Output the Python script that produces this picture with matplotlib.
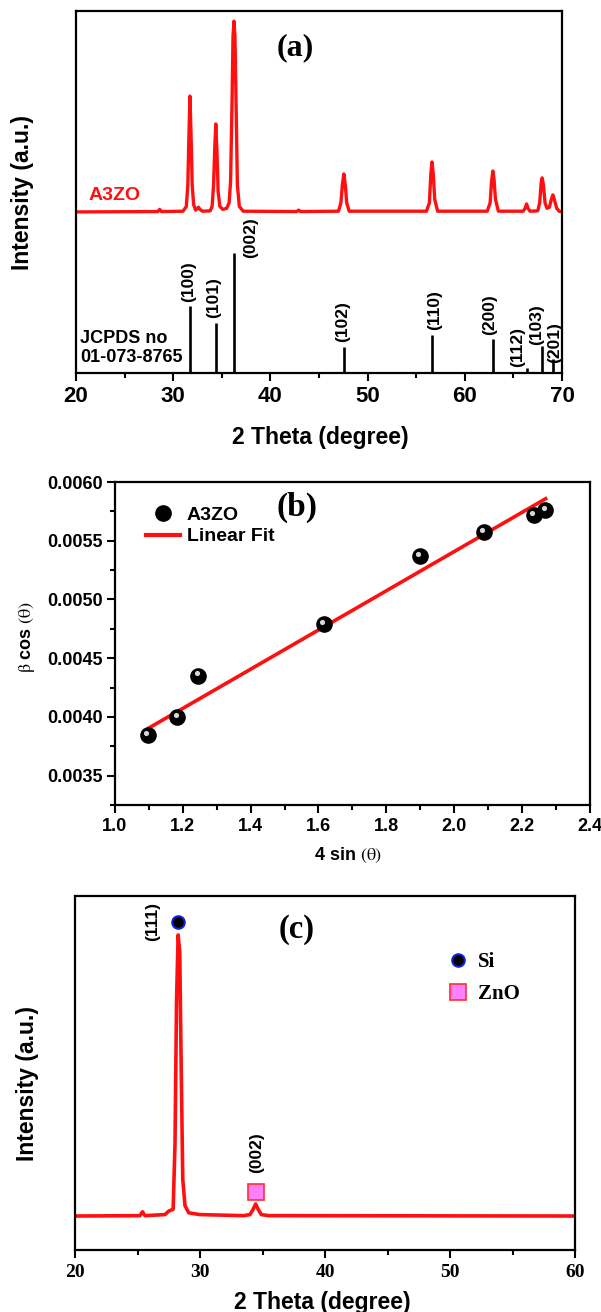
import numpy as np
import matplotlib
matplotlib.use("Agg")
import matplotlib.pyplot as plt
from matplotlib.ticker import MultipleLocator, FormatStrFormatter
from matplotlib.transforms import offset_copy
from matplotlib.lines import Line2D

plt.rcParams['font.family'] = ['Liberation Sans', 'DejaVu Sans']
plt.rcParams['mathtext.fontset'] = 'stix'
plt.rcParams['axes.linewidth'] = 1.6

# ---------------- data ----------------
# (a) A3ZO pattern (2theta, intensity in axis units)
a3zo_2t = [20, 28.4, 28.6, 28.8, 31.0, 31.35, 31.5, 31.6, 31.72, 31.85, 31.95, 32.1, 32.3,
           32.6, 32.75, 33.0, 33.8, 34.0, 34.15, 34.27, 34.38, 34.5, 34.62, 34.8, 35.1,
           35.5, 35.75, 35.9, 36.05, 36.15, 36.25, 36.35, 36.48, 36.6, 36.8, 37.2,
           42.7, 42.9, 43.1, 47.0, 47.25, 47.4, 47.55, 47.7, 47.85, 48.1,
           56.05, 56.35, 56.5, 56.62, 56.75, 56.9, 57.2,
           62.3, 62.6, 62.75, 62.88, 63.0, 63.15, 63.45,
           66.0, 66.2, 66.35, 66.5, 66.7,
           67.5, 67.7, 67.85, 67.95, 68.08, 68.25, 68.45,
           68.7, 68.9, 69.05, 69.2, 69.45, 69.7, 70]
a3zo_int = [0.445, 0.446, 0.452, 0.446, 0.447, 0.46, 0.52, 0.64, 0.765, 0.64, 0.52, 0.465, 0.45,
            0.458, 0.452, 0.447, 0.448, 0.46, 0.52, 0.62, 0.688, 0.61, 0.50, 0.46, 0.452,
            0.455, 0.47, 0.53, 0.75, 0.93, 0.972, 0.93, 0.72, 0.52, 0.46, 0.447,
            0.446, 0.45, 0.446, 0.447, 0.47, 0.52, 0.55, 0.52, 0.47, 0.447,
            0.447, 0.47, 0.55, 0.583, 0.55, 0.48, 0.447,
            0.447, 0.47, 0.53, 0.558, 0.535, 0.48, 0.447,
            0.447, 0.455, 0.467, 0.455, 0.447,
            0.448, 0.47, 0.525, 0.539, 0.52, 0.47, 0.455,
            0.458, 0.48, 0.492, 0.48, 0.455, 0.447, 0.445]

# JCPDS 01-073-8765 reference lines
ref_2t = [31.77, 34.42, 36.25, 47.54, 56.6, 62.86, 66.38, 67.96, 69.1]
ref_int = [0.185, 0.138, 0.332, 0.072, 0.105, 0.094, 0.014, 0.075, 0.039]
ref_hkl = ['(100)', '(101)', '(002)', '(102)', '(110)', '(200)', '(112)', '(103)', '(201)']

# (b) Williamson-Hall plot
wh_x = [1.097, 1.184, 1.246, 1.615, 1.899, 2.087, 2.235, 2.269]
wh_y = [0.003844, 0.003997, 0.004352, 0.004793, 0.005369, 0.005574, 0.005716, 0.005759]
fit_x = [1.10, 2.27]
fit_y = [0.003906, 0.005858]

# (c) film pattern
film_2t = [20, 25.2, 25.4, 25.6, 27.2, 27.5, 27.85, 28.0, 28.12, 28.25, 28.38, 28.5,
           28.62, 28.8, 29.1, 30, 33.5, 34.0, 34.25, 34.45, 34.65, 34.9, 35.5, 60]
film_int = [0.096, 0.097, 0.108, 0.097, 0.1, 0.11, 0.115, 0.3, 0.7, 0.89, 0.84, 0.5,
            0.2, 0.125, 0.105, 0.1, 0.097, 0.1, 0.115, 0.13, 0.115, 0.1, 0.097, 0.096]

# label placement for the hkl tags in (a): (x centre, y bottom)
hkl_pos = [(31.6, 0.196), (34.2, 0.152), (37.95, 0.318), (47.4, 0.086), (56.9, 0.119),
           (62.6, 0.105), (65.4, 0.017), (67.4, 0.077), (69.25, 0.028)]

fig = plt.figure(figsize=(6.01, 13.12), dpi=100)
RED = '#ff1010'

# ---------------- (a) ----------------
ax1 = fig.add_axes([0.1265, 0.7157, 0.8087, 0.2759])
ax1.plot(a3zo_2t, a3zo_int, color=RED, lw=2.4)
ax1.vlines(ref_2t, 0, ref_int, color='black', lw=1.9)
for lab, (px, py) in zip(ref_hkl, hkl_pos):
    ax1.text(px, py, lab, rotation=90, ha='center', va='bottom', fontsize=12.5, fontweight='bold')
ax1.text(21.3, 0.489, 'A3ZO', color=RED, fontsize=14, fontweight='bold', va='center')
ax1.text(20.4, 0.069, 'JCPDS no\n01-073-8765', fontsize=13, fontweight='bold',
         va='center', linespacing=1.1)
ax1.text(42.6, 0.90, '(a)', family='Liberation Serif', fontsize=23, fontweight='bold',
         ha='center', va='center')
ax1.set_xlim(20, 70)
ax1.set_ylim(0, 1)
ax1.xaxis.set_major_locator(MultipleLocator(10))
ax1.xaxis.set_minor_locator(MultipleLocator(5))
ax1.set_yticks([])
ax1.tick_params(axis='x', which='major', direction='out', length=6, width=1.5, pad=3,
                labelsize=16)
ax1.tick_params(axis='x', which='minor', direction='out', length=3.5, width=1.5)
for t in ax1.get_xticklabels():
    t.set_fontweight('bold')
ax1.set_xlabel('2 Theta (degree)', fontsize=16.5, fontweight='bold', va='center')
ax1.xaxis.set_label_coords(0.502, -0.177)
ax1.set_ylabel('Intensity (a.u.)', fontsize=16.5, fontweight='bold', va='center')
ax1.yaxis.set_label_coords(-0.11, 0.5)

# ---------------- (b) ----------------
ax2 = fig.add_axes([0.1913, 0.3864, 0.790, 0.2462])
ax2.plot(fit_x, fit_y, color=RED, lw=2.6, zorder=2)
ax2.scatter(wh_x, wh_y, s=120, color='black', zorder=3)
hl = offset_copy(ax2.transData, fig=fig, x=-1.3, y=1.6, units='points')
ax2.scatter(wh_x, wh_y, s=14, color='#d8d8d8', transform=hl, zorder=4, linewidths=0)
ax2.set_xlim(1.0, 2.4)
ax2.set_ylim(0.00325, 0.0060)
ax2.xaxis.set_major_locator(MultipleLocator(0.2))
ax2.xaxis.set_minor_locator(MultipleLocator(0.1))
ax2.yaxis.set_major_locator(MultipleLocator(0.0005))
ax2.yaxis.set_minor_locator(MultipleLocator(0.00025))
ax2.xaxis.set_major_formatter(FormatStrFormatter('%.1f'))
ax2.yaxis.set_major_formatter(FormatStrFormatter('%.4f'))
ax2.tick_params(which='major', direction='out', length=6, width=1.5, labelsize=13, pad=3)
ax2.tick_params(which='minor', direction='out', length=3.5, width=1.5)
for t in ax2.get_xticklabels() + ax2.get_yticklabels():
    t.set_fontweight('bold')
ax2.text(1.538, 0.005787, '(b)', family='Liberation Serif', fontsize=24, fontweight='bold',
         ha='center', va='center')
handles = [Line2D([], [], ls='none', marker='o', ms=11, color='black'),
           Line2D([], [], color=RED, lw=3)]
leg = ax2.legend(handles, ['A3ZO', 'Linear Fit'], loc='upper left',
                 bbox_to_anchor=(0.045, 0.955), frameon=False, borderpad=0,
                 prop={'weight': 'bold', 'size': 14}, handlelength=1.75,
                 handletextpad=0.35, labelspacing=0.2)
ax2.set_xlabel(r'4 sin $\mathrm{(\theta)}$', fontsize=13, fontweight='bold', va='center')
ax2.xaxis.set_label_coords(0.49, -0.155)
ax2.set_ylabel(r'$\mathrm{\beta}$ cos $\mathrm{(\theta)}$', fontsize=13, fontweight='bold',
               va='center')
ax2.yaxis.set_label_coords(-0.185, 0.52)

# ---------------- (c) ----------------
ax3 = fig.add_axes([0.1248, 0.04726, 0.832, 0.2698])
ax3.plot(film_2t, film_int, color=RED, lw=2.6)
ax3.plot([28.25], [0.927], ls='none', marker='o', ms=9, mfc='black', mec='#1020e0', mew=1.5)
ax3.plot([34.5], [0.164], ls='none', marker='s', ms=11, mfc='#ff80ff', mec='#ff3030', mew=1.2)
ax3.text(26.2, 0.927, '(111)', rotation=90, ha='center', va='center', fontsize=12.5,
         fontweight='bold')
ax3.text(34.5, 0.274, '(002)', rotation=90, ha='center', va='center', fontsize=12.5,
         fontweight='bold')
ax3.text(37.7, 0.904, '(c)', family='Liberation Serif', fontsize=23.5, fontweight='bold',
         ha='center', va='center')
handles3 = [Line2D([], [], ls='none', marker='o', ms=9, mfc='black', mec='#1020e0', mew=1.5),
            Line2D([], [], ls='none', marker='s', ms=11, mfc='#ff80ff', mec='#ff3030', mew=1.2)]
ax3.legend(handles3, ['Si', 'ZnO'], loc='upper left', bbox_to_anchor=(0.725, 0.87),
           frameon=False, borderpad=0, handlelength=1.0, handletextpad=0.45,
           labelspacing=0.55, prop={'family': 'Liberation Serif', 'weight': 'bold', 'size': 15})
ax3.set_xlim(20, 60)
ax3.set_ylim(0, 1)
ax3.xaxis.set_major_locator(MultipleLocator(10))
ax3.xaxis.set_minor_locator(MultipleLocator(5))
ax3.set_yticks([])
ax3.tick_params(axis='x', which='major', direction='out', length=6, width=1.5, pad=4,
                labelsize=14)
ax3.tick_params(axis='x', which='minor', direction='out', length=3.5, width=1.5)
for t in ax3.get_xticklabels():
    t.set_family('Liberation Serif')
    t.set_fontweight('bold')
ax3.set_xlabel('2 Theta (degree)', fontsize=16.5, fontweight='bold', va='center')
ax3.xaxis.set_label_coords(0.494, -0.148)
ax3.set_ylabel('Intensity (a.u.)', fontsize=16.5, fontweight='bold', va='center')
ax3.yaxis.set_label_coords(-0.096, 0.47)

fig.savefig('out.png', dpi=100, facecolor='white')
